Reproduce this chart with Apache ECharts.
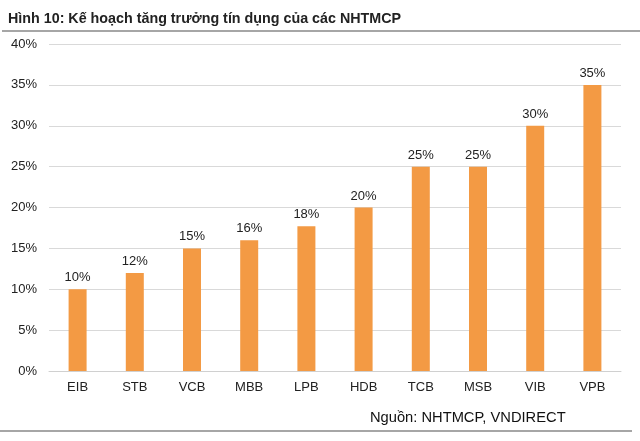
<!DOCTYPE html>
<html><head><meta charset="utf-8">
<script src="https://cdn.jsdelivr.net/npm/echarts@6/dist/echarts.min.js"></script>
<style>html,body{margin:0;padding:0;background:#fff}#c{width:640px;height:441px}</style>
</head><body><div id="c"></div>
<script>
const categories = ["EIB","STB","VCB","MBB","LPB","HDB","TCB","MSB","VIB","VPB"];
const values = [10,12,15,16,17.7,20,25,25,30,35];
const titleText = "Hình 10: Kế hoạch tăng trưởng tín dụng của các NHTMCP";
const sourceText = "Nguồn: NHTMCP, VNDIRECT";
const chart = echarts.init(document.getElementById('c'), null, {renderer:'canvas'});
chart.setOption({
  animation:false,
  textStyle:{fontFamily:'Liberation Sans, Arial, sans-serif'},
  title:{text:titleText,left:3,top:7,textStyle:{fontSize:14.3,fontWeight:'bold',color:'#222',fontFamily:'Liberation Sans, Arial, sans-serif'}},
  graphic:[
    {type:'line',shape:{x1:2,y1:31,x2:640,y2:31},style:{stroke:'#888',lineWidth:1.5}},
    {type:'line',shape:{x1:0,y1:431,x2:632,y2:431},style:{stroke:'#888',lineWidth:1.5}},
    {type:'text',left:370,top:410,style:{text:sourceText,font:'14.7px Liberation Sans, Arial, sans-serif',fill:'#111'}}
  ],
  grid:{left:49,right:19,top:44,bottom:70,containLabel:false},
  xAxis:{type:'category',data:categories,axisTick:{show:false},
    axisLine:{lineStyle:{color:'#d0d0d0'}},
    axisLabel:{color:'#222',fontSize:13,margin:10}},
  yAxis:{type:'value',min:0,max:40,interval:5,
    axisLabel:{formatter:'{value}%',color:'#222',fontSize:13,margin:12},
    splitLine:{lineStyle:{color:'#d9d9d9'}},axisLine:{show:false},axisTick:{show:false}},
  series:[{type:'bar',data:values,barWidth:18,itemStyle:{color:'#F39A44'},
    label:{show:true,position:'top',color:'#222',fontSize:13,distance:5,
      formatter:p=>Math.round(p.value)+'%'}}]
});
</script></body></html>
